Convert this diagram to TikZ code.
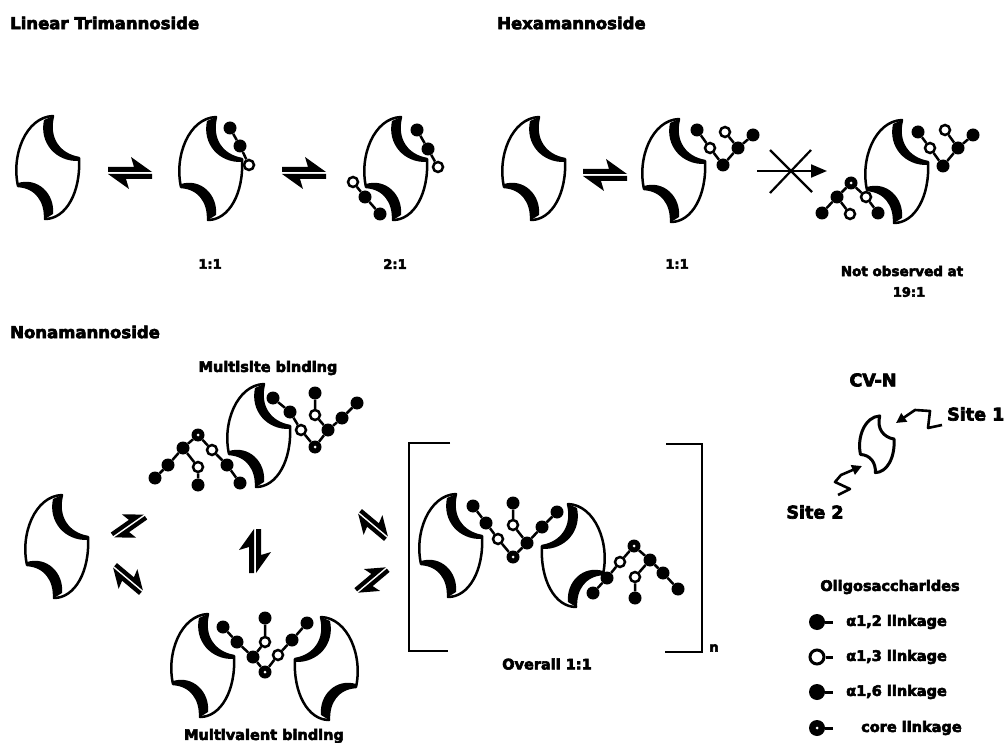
\documentclass[tikz,border=0pt]{standalone}
\usepackage{fontspec}
\setmainfont{DejaVu Sans}[BoldFeatures={FakeBold=4}]
\usetikzlibrary{arrows.meta}
\tikzset{
  % CV-N protein outline with its two binding pockets
  cvn/.pic={
    \path[fill=white] (5,-51) .. controls (-22,-50) and (-37,-12) .. (-30,19)
       .. controls (-12,20) and (-2,34) .. (-3,52)
       .. controls (18,52) and (33,25) .. (31,-9)
       .. controls (12,-12) and (-1,-28) .. (5,-51) -- cycle;
    \draw[outline] (5,-51) .. controls (-22,-50) and (-37,-12) .. (-30,19)
       .. controls (-12,20) and (-2,34) .. (-3,52)
       .. controls (18,52) and (33,25) .. (31,-9)
       .. controls (12,-12) and (-1,-28) .. (5,-51) -- cycle;
    \fill (31,-9) .. controls (12,-12) and (-1,-28) .. (5,-51)
          -- (-4,-47) .. controls (-9,-24) and (8,-5) .. (31,-6) -- cycle;
    \fill (-30,19) .. controls (-12,20) and (-2,34) .. (-3,52)
          -- (5,47) .. controls (7,27) and (-10,10) .. (-30,16) -- cycle;
  },
  % small outline-only version of the protein
  cvnsmall/.pic={
    \draw[line width=3pt, line join=round, fill=white]
       (5,-51) .. controls (-22,-50) and (-37,-12) .. (-30,19)
       .. controls (-12,20) and (-2,34) .. (-3,52)
       .. controls (18,52) and (33,25) .. (31,-9)
       .. controls (12,-12) and (-1,-28) .. (5,-51) -- cycle;
  },
  % equilibrium harpoons
  eqarr/.pic={
    \fill (-22,-1) -- (22,-1) -- (1,-16) -- (4,-6) -- (-22,-6) -- cycle;
    \fill (22,1) -- (-22,1) -- (-1,16) -- (-4,6) -- (22,6) -- cycle;
  },
}
\begin{document}
\begin{tikzpicture}[x=1pt,y=-1pt,
  outline/.style={line width=2.5pt, line join=round},
  lbl/.style={font=\bfseries\fontsize{14.5}{16}\selectfont, inner sep=0pt},
  ratio/.style={font=\bfseries\fontsize{13}{15}\selectfont, inner sep=0pt},
  ttl/.style={font=\bfseries\fontsize{16.5}{18}\selectfont, inner sep=0pt, anchor=west},
  big/.style={font=\bfseries\fontsize{17.5}{19}\selectfont, inner sep=0pt},
  bond/.style={line width=2.5pt},
  fman/.style={circle, fill=black, minimum size=13pt, inner sep=0pt},
  oman/.style={circle, draw=black, fill=white, line width=2.5pt, minimum size=10pt, inner sep=0pt},
  cman/.style={fman, path picture={\fill[white] (path picture bounding box.center) circle (1.5pt);}},
  keyf/.style={fman, minimum size=16pt},
  keyo/.style={oman, minimum size=14pt, line width=3pt},
  keyc/.style={cman, minimum size=16pt},
]
\useasboundingbox (0,0) rectangle (1004,743);
\fill[white] (0,0) rectangle (1004,743);

% ---------------- titles ----------------
\node[ttl] (tlin) at (10,23) {Linear Trimannoside};
\node[ttl] (thex) at (497,23) {Hexamannoside};
\node[ttl] (tnon) at (10,332) {Nonamannoside};

% ---------------- linear trimannoside ----------------
\pic (pA) at (48,167) {cvn};
\pic (qA) at (130,173) {eqarr};
\pic (pB) at (211,168) {cvn};
\pic (qB) at (304,173) {eqarr};
\pic (pC) at (396,168) {cvn};

\node[fman] (ta1) at (230,128) {};
\node[fman] (ta2) at (240,146) {};
\node[oman] (ta3) at (249,165) {};
\draw[bond] (ta1) -- (ta2) -- (ta3);

\node[fman] (tb1) at (417,130) {};
\node[fman] (tb2) at (428,149) {};
\node[oman] (tb3) at (438,167) {};
\draw[bond] (tb1) -- (tb2) -- (tb3);
\node[fman] (tc1) at (380,214) {};
\node[fman] (tc2) at (365,197) {};
\node[oman] (tc3) at (353,182) {};
\draw[bond] (tc1) -- (tc2) -- (tc3);

\node[ratio] (r11) at (210,264) {1:1};
\node[ratio] (r21) at (395,264) {2:1};

% ---------------- hexamannoside ----------------
\pic (pD) at (534,168) {cvn};
\pic (qD) at (605,175) {eqarr};
\pic (pE) at (674,170) {cvn};
\pic (pF) at (897,171) {cvn};

\node[fman] (ha) at (697,130) {};
\node[oman] (hb) at (710,148) {};
\node[oman] (hc) at (725,132) {};
\node[fman] (hd) at (738,148) {};
\node[fman] (he) at (753,135) {};
\node[fman] (hf) at (723,165) {};
\draw[bond] (ha) -- (hb) -- (hf) -- (hd) -- (he) (hc) -- (hd);

\node[fman] (na) at (918,132) {};
\node[oman] (nb) at (930,148) {};
\node[oman] (nc) at (945,130) {};
\node[fman] (nd) at (958,148) {};
\node[fman] (ne) at (973,135) {};
\node[fman] (nf) at (943,166) {};
\draw[bond] (na) -- (nb) -- (nf) -- (nd) -- (ne) (nc) -- (nd);

\node[fman] (ng) at (822,213) {};
\node[fman] (nh) at (837,197) {};
\node[cman] (ni) at (851,183) {};
\node[oman] (nj) at (866,197) {};
\node[fman] (nk) at (878,213) {};
\node[oman] (nl) at (850,214) {};
\draw[bond] (ng) -- (nh) -- (ni) -- (nj) -- (nk) (nh) -- (nl);

% blocked step
\coordinate (xs) at (757,171);
\coordinate (xe) at (827,171);
\draw[line width=2.2pt, -{Triangle[length=16pt,width=13pt]}] (xs) -- (xe);
\coordinate (xa) at (770,150);
\coordinate (xb) at (812,192);
\coordinate (xc) at (770,193);
\coordinate (xd) at (811,150);
\draw[line width=2.2pt] (xa) -- (xb) (xc) -- (xd);

\node[ratio] (r11h) at (677,264) {1:1};
\node[lbl, font=\bfseries\fontsize{13.5}{15}\selectfont] (rno) at (902,271) {Not observed at};
\node[ratio] (r19) at (909,292) {19:1};

% ---------------- nonamannoside ----------------
\pic (pG) at (57,546) {cvn};
\pic[rotate=35, scale=0.85] (qG1) at (129,526) {eqarr};
\pic[rotate=-40, scale=0.85] (qG2) at (128,579) {eqarr};
\pic[rotate=-40, scale=0.85] (qH1) at (373,525) {eqarr};
\pic[rotate=40, scale=0.85] (qH2) at (372,580) {eqarr};
\pic[rotate=90] (qV) at (255,551) {eqarr};

% multisite binding
\node[lbl] (tms) at (268,368) {Multisite binding};
\pic (pH) at (259,435) {cvn};
\node[fman] (m1) at (273,398) {};
\node[fman] (m2) at (290,412) {};
\node[oman] (m3) at (301,430) {};
\node[cman] (m4) at (315,447) {};
\node[fman] (m5) at (328,430) {};
\node[oman] (m6) at (315,415) {};
\node[fman] (m7) at (315,393) {};
\node[fman] (m8) at (342,418) {};
\node[fman] (m9) at (357,403) {};
\draw[bond] (m1) -- (m2) -- (m3) -- (m4) -- (m5) -- (m6) -- (m7) (m5) -- (m8) -- (m9);

\node[fman] (l1) at (240,483) {};
\node[fman] (l2) at (227,465) {};
\node[oman] (l3) at (212,450) {};
\node[cman] (l4) at (198,435) {};
\node[fman] (l5) at (183,448) {};
\node[oman] (l6) at (198,467) {};
\node[fman] (l7) at (198,485) {};
\node[fman] (l8) at (168,465) {};
\node[fman] (l9) at (155,478) {};
\draw[bond] (l1) -- (l2) -- (l3) -- (l4) -- (l5) -- (l6) -- (l7) (l5) -- (l8) -- (l9);

% multivalent binding
\pic (pK) at (203,665) {cvn};
\pic[xscale=-1] (pL) at (326,668) {cvn};
\node[fman] (v1) at (223,627) {};
\node[fman] (v2) at (237,642) {};
\node[fman] (v3) at (253,657) {};
\node[cman] (v4) at (265,672) {};
\node[oman] (v5) at (278,655) {};
\node[fman] (v6) at (292,640) {};
\node[fman] (v7) at (307,623) {};
\node[oman] (v8) at (265,642) {};
\node[fman] (v9) at (265,618) {};
\draw[bond] (v1) -- (v2) -- (v3) -- (v4) -- (v5) -- (v6) -- (v7) (v3) -- (v8) -- (v9);
\node[lbl] (tmv) at (264,736) {Multivalent binding};

% cross-linked lattice
\coordinate (bl1) at (450,443);
\coordinate (bl2) at (409,443);
\coordinate (bl3) at (409,651);
\coordinate (bl4) at (448,651);
\coordinate (br1) at (666,444);
\coordinate (br2) at (702,444);
\coordinate (br3) at (702,652);
\coordinate (br4) at (665,652);
\draw[line width=2pt] (bl1) -- (bl2) -- (bl3) -- (bl4);
\draw[line width=2pt] (br1) -- (br2) -- (br3) -- (br4);
\node[ratio] (tn) at (714,648) {n};

\pic (pI) at (451,545) {cvn};
\pic[xscale=-1] (pJ) at (573,555) {cvn};
\node[fman] (b1) at (473,506) {};
\node[fman] (b2) at (486,523) {};
\node[oman] (b3) at (498,539) {};
\node[cman] (b4) at (513,557) {};
\node[fman] (b5) at (527,543) {};
\node[oman] (b6) at (513,525) {};
\node[fman] (b7) at (513,503) {};
\node[fman] (b8) at (542,527) {};
\node[fman] (b9) at (557,512) {};
\draw[bond] (b1) -- (b2) -- (b3) -- (b4) -- (b5) -- (b6) -- (b7) (b5) -- (b8) -- (b9);

\node[fman] (c1) at (593,593) {};
\node[fman] (c2) at (607,578) {};
\node[oman] (c3) at (620,562) {};
\node[cman] (c4) at (634,546) {};
\node[fman] (c5) at (650,560) {};
\node[oman] (c6) at (635,577) {};
\node[fman] (c7) at (635,598) {};
\node[fman] (c8) at (663,573) {};
\node[fman] (c9) at (678,589) {};
\draw[bond] (c1) -- (c2) -- (c3) -- (c4) -- (c5) -- (c6) -- (c7) (c5) -- (c8) -- (c9);
\node[lbl] (tov) at (547,664) {Overall 1:1};

% ---------------- CV-N key ----------------
\node[big] (tcv) at (873,380) {CV-N};
\pic[scale=0.55] (pM) at (877,444) {cvnsmall};
\node[big, anchor=west] (ts1) at (947,414) {Site 1};
\node[big] (ts2) at (815,512) {Site 2};
\coordinate (s1a) at (942,425);
\coordinate (s1t) at (896,423);
\draw[line width=2.6pt, line join=round, -{Triangle[length=10pt,width=10pt]}]
  (s1a) -- (928,428) -- (930,411) -- (915,410) -- (s1t);
\coordinate (s2a) at (838,495);
\coordinate (s2t) at (862,466);
\draw[line width=2.6pt, line join=round, -{Triangle[length=10pt,width=10pt]}]
  (s2a) -- (850,489) -- (835,482) -- (841,475) -- (s2t);

% ---------------- legend ----------------
\node[lbl] (tol) at (890,587) {Oligosaccharides};
\node[keyf] (k1) at (817,622) {};
\node[keyo] (k2) at (817,657) {};
\node[keyf] (k3) at (817,692) {};
\node[keyc] (k4) at (817,728) {};
\coordinate (k1e) at (833,622);
\coordinate (k2e) at (833,657);
\coordinate (k3e) at (833,692);
\coordinate (k4e) at (833,728);
\draw[line width=3pt] (k1) -- (k1e) (k2) -- (k2e) (k3) -- (k3e) (k4) -- (k4e);
\node[lbl, anchor=west] (lk1) at (846,622) {α1,2 linkage};
\node[lbl, anchor=west] (lk2) at (846,657) {α1,3 linkage};
\node[lbl, anchor=west] (lk3) at (846,692) {α1,6 linkage};
\node[lbl, anchor=west] (lk4) at (861,728) {core linkage};
\end{tikzpicture}
\end{document}
